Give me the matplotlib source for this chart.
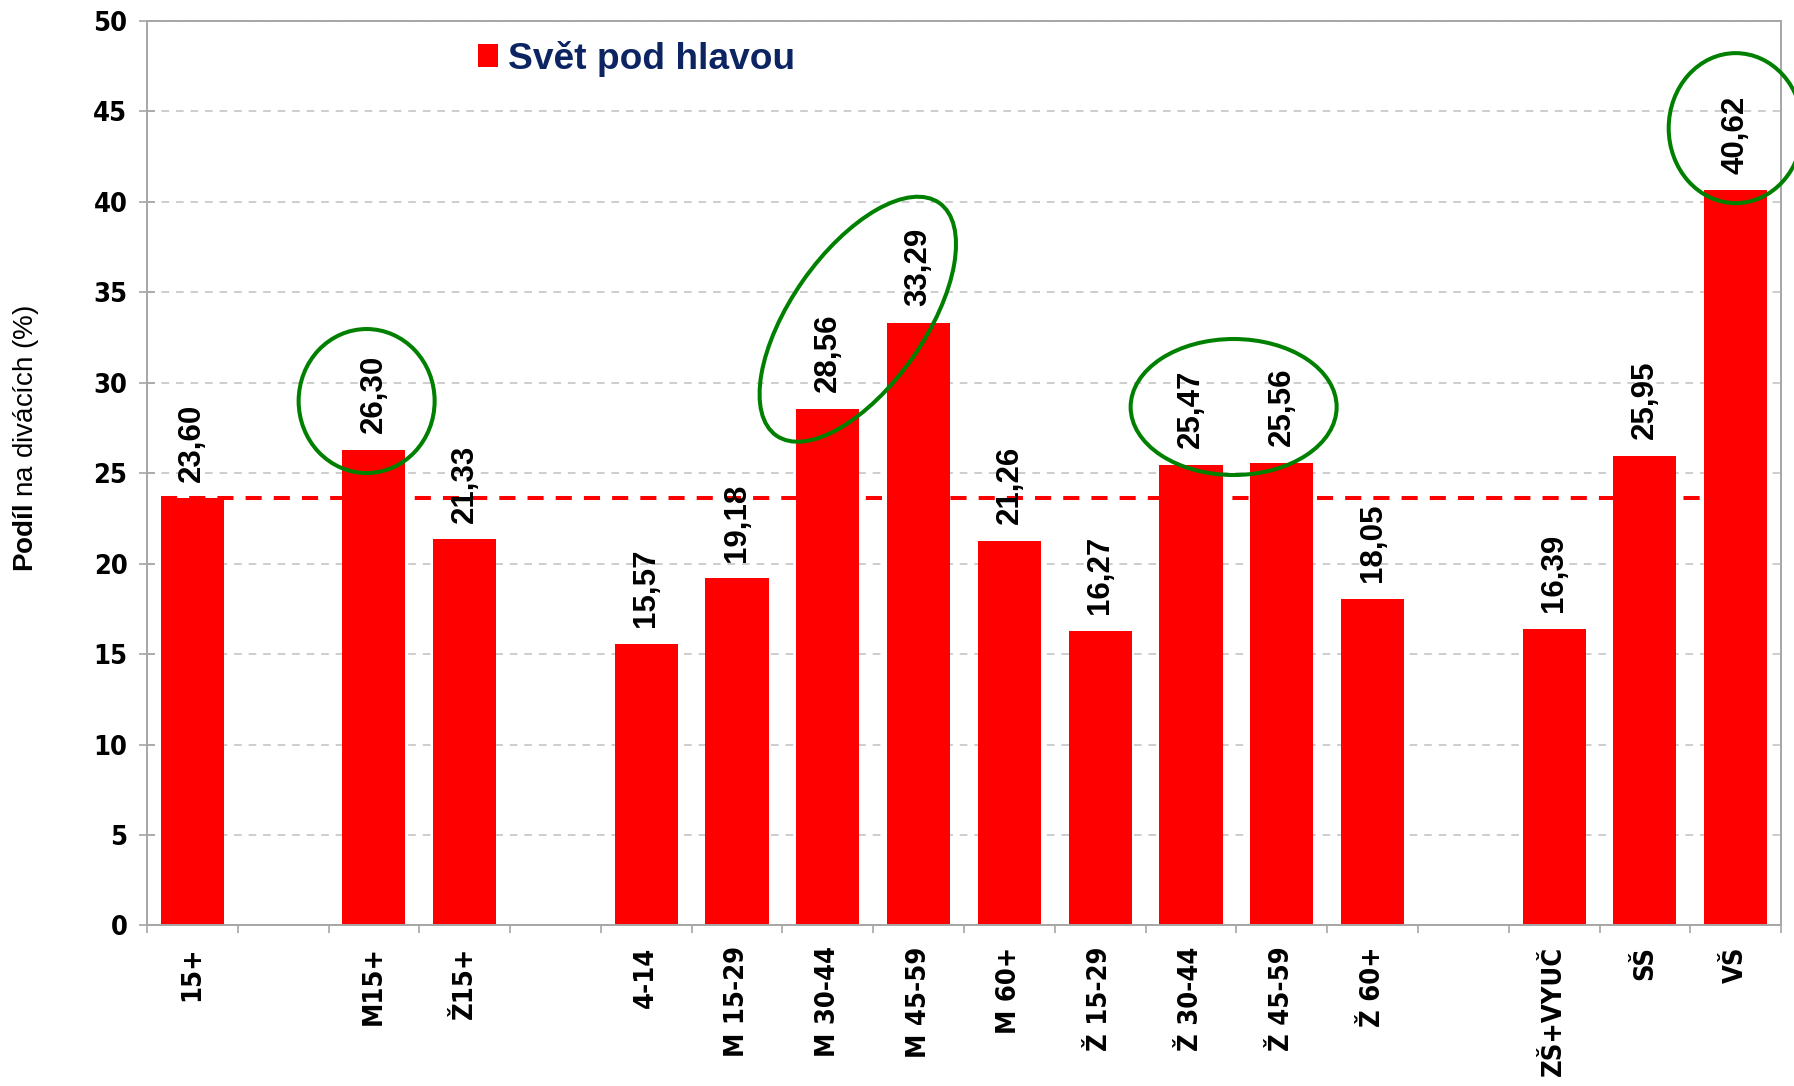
import matplotlib.pyplot as plt
import numpy as np
from matplotlib.patches import Ellipse
from matplotlib.transforms import ScaledTranslation

plt.rcParams['mathtext.fontset'] = 'custom'
plt.rcParams['mathtext.rm'] = 'Liberation Sans'
plt.rcParams['mathtext.bf'] = 'Liberation Sans:bold'

# data
kategorie = ['15+', '', 'M15+', 'Ž15+', '', '4-14', 'M 15-29', 'M 30-44', 'M 45-59', 'M 60+',
             'Ž 15-29', 'Ž 30-44', 'Ž 45-59', 'Ž 60+', '', 'ZŠ+VYUČ', 'SŠ', 'VŠ']
podil = [23.60, None, 26.30, 21.33, None, 15.57, 19.18, 28.56, 33.29, 21.26,
         16.27, 25.47, 25.56, 18.05, None, 16.39, 25.95, 40.62]
prumer = 23.60  # 15+ celkem
nazev = 'Svět pod hlavou'

# zvýraznění (x v kategoriích, y v %, šířka/výška v px, úhel)
zvyrazneni = [(1.92, 28.98, 136, 144, 0),
              (7.33, 33.5, 284, 134, 55),
              (11.47, 28.65, 206, 136, 0),
              (17.0, 44.06, 134, 150, 0)]

seda = '#a6a6a6'
tick_font = dict(family=['DejaVu Sans Condensed', 'DejaVu Sans'], stretch='condensed',
                 weight='bold', size=19.5)

fig = plt.figure(figsize=(17.94, 10.86), dpi=100)
ax = fig.add_axes([0.0819, 0.1478, 0.9928 - 0.0819, 0.981 - 0.1478])

x = np.arange(len(kategorie))
vals = np.array([np.nan if v is None else v for v in podil])
m = ~np.isnan(vals)
w = 0.695
ax.bar(x[m], vals[m], width=w, color='#ff0000', label=nazev, zorder=2)

for xi, v in zip(x[m], vals[m]):
    ax.annotate(f'{v:.2f}'.replace('.', ','), (xi, v), xytext=(0, 12),
                textcoords='offset points', rotation=90, ha='center', va='bottom',
                fontsize=22.5, fontweight='bold', family='Liberation Sans', zorder=4)

# prumerna linie
ax.hlines(prumer, x[m][0] - w / 2, x[m][-1] + w / 2, colors='#ff0000',
          linewidth=2.9, linestyles=(0, (4, 3)), zorder=3)

ax.set_xlim(-0.5, len(kategorie) - 0.5)
ax.set_ylim(0, 50)
ax.set_yticks(np.arange(0, 51, 5))
ax.set_xticks(x)
ax.set_xticklabels(kategorie, rotation=90, fontdict=tick_font)
ax.set_yticklabels([str(t) for t in range(0, 51, 5)], fontdict=tick_font)
ax.set_xticks(np.arange(-0.5, len(kategorie)), minor=True)
ax.tick_params(axis='x', which='major', length=0, pad=15)
ax.tick_params(axis='x', which='minor', length=6, width=1.2, color=seda)
ax.tick_params(axis='y', direction='inout', length=12, width=1.2, color=seda, pad=8)

ax.grid(axis='y', color='#c0c0c0', linewidth=1.1, linestyle=(0, (5, 4.5)), zorder=0)
ax.set_axisbelow(True)
for s in ax.spines.values():
    s.set_color(seda)
    s.set_linewidth(1.4)

fig.text(0.0145, 0.596, r'$\mathbf{Podíl}$ na divácích (%)', rotation=90,
         ha='center', va='center', fontsize=20, family='Liberation Sans')

ax.legend(loc='center left', bbox_to_anchor=(0.2026, 0.958), frameon=False,
          prop=dict(family='Liberation Sans', weight='bold', size=26.7),
          labelcolor='#0d2463', handlelength=0.55, handleheight=0.55,
          handletextpad=0.25, borderpad=0, borderaxespad=0)

for ex, ey, ew, eh, ang in zvyrazneni:
    tr = fig.dpi_scale_trans + ScaledTranslation(ex, ey, ax.transData)
    ax.add_patch(Ellipse((0, 0), ew / 100, eh / 100, angle=ang, transform=tr,
                         fill=False, edgecolor='#008000', linewidth=2.9,
                         clip_on=False, zorder=5))

fig.savefig('out.png', dpi=100)
